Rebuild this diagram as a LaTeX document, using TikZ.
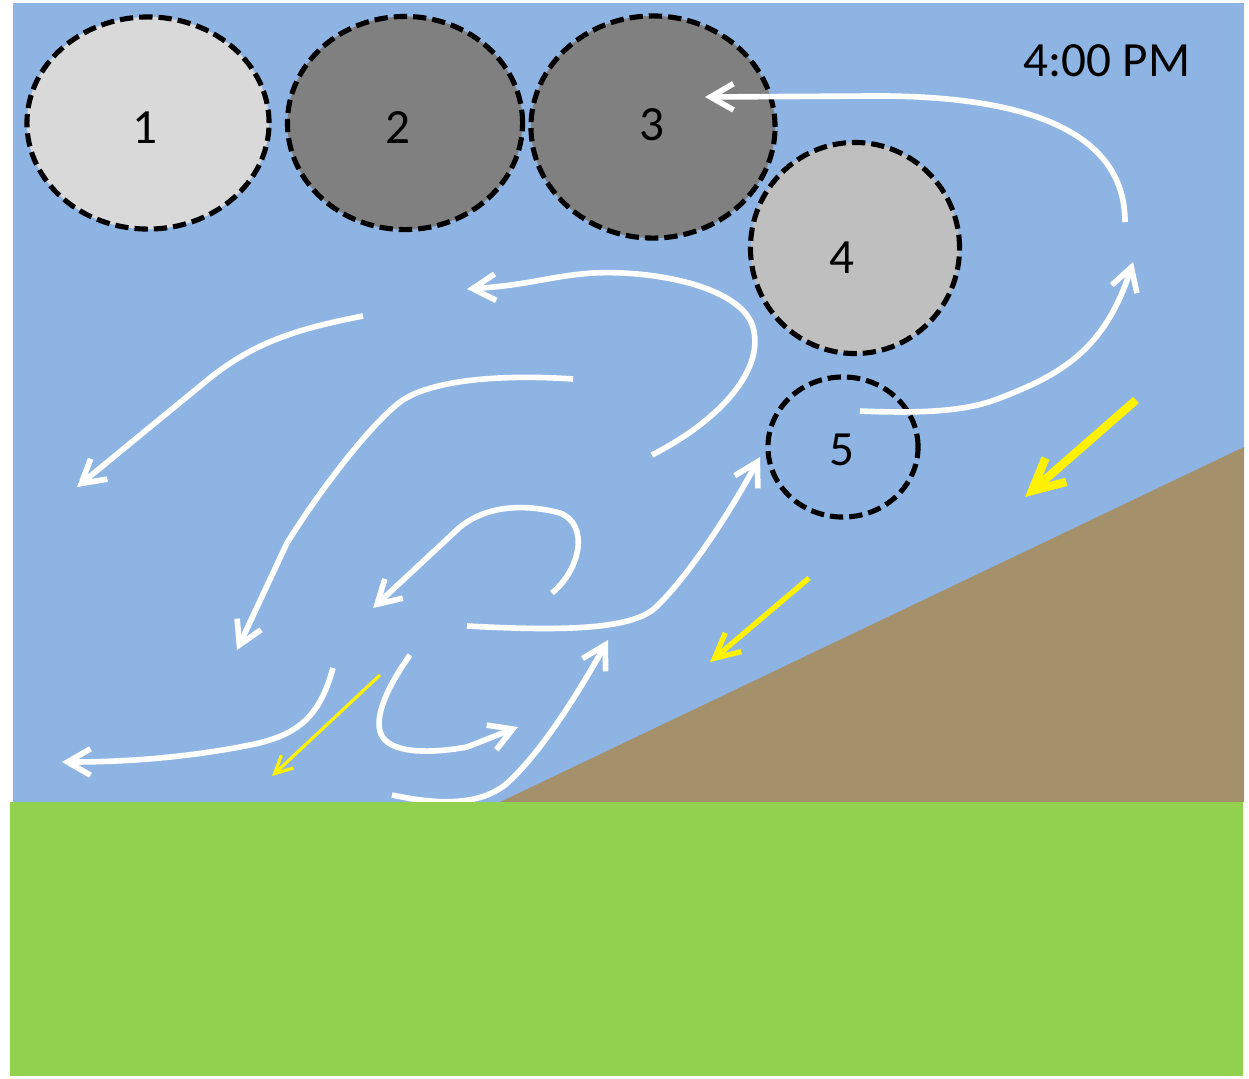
\documentclass[tikz,border=0pt]{standalone}
\usepackage{fontspec}
\setmainfont{Carlito}
\usetikzlibrary{arrows.meta, shapes.geometric}

\definecolor{sky}{RGB}{142,180,227}
\definecolor{grass}{RGB}{146,208,80}
\definecolor{hill}{RGB}{164,144,107}
\definecolor{pale}{RGB}{217,217,217}
\definecolor{dark}{RGB}{128,128,128}
\definecolor{mid}{RGB}{191,191,191}

\begin{document}
\begin{tikzpicture}[x=0.01cm, y=-0.01cm,
    puff/.style={ellipse, draw=black, line width=1.45pt, dash pattern=on 3.8pt off 1.7pt, inner sep=0pt},
    num/.style={font=\fontsize{14}{16}\selectfont},
    wind/.style={draw=white, line width=1.6pt, -{Straight Barb[length=6.5pt,width=7.5pt]}},
    breeze/.style={draw=yellow, -{Straight Barb[length=#1,width=#1]}},
    breeze/.default=7pt]

    \useasboundingbox (0,0) rectangle (1249,1078);

    % sky and the slope
    \fill[sky] (13,3) rectangle (1244,802);
    \fill[hill] (500,802) -- (1244,447) -- (1244,802) -- cycle;

    % clouds
    \node[puff, fill=pale, minimum width=2.42cm, minimum height=2.12cm] (c1) at (148,123) {};
    \node[puff, fill=dark, minimum width=2.35cm, minimum height=2.13cm] (c2) at (405,123) {};
    \node[puff, fill=dark, minimum width=2.44cm, minimum height=2.22cm] (c3) at (653,127) {};
    \node[puff, fill=mid, minimum width=2.09cm, minimum height=2.11cm] (c4) at (855,248) {};
    \node[puff, minimum width=1.50cm, minimum height=1.40cm] (c5) at (843,447) {};

    \node[num] (n1) at (145,128) {1};
    \node[num] (n2) at (398,128) {2};
    \node[num] (n3) at (652,125) {3};
    \node[num] (n4) at (842,258) {4};
    \node[num] (n5) at (842,450) {5};

    \node[num] (time) at (1107,61) {4:00 PM};

    % white gusts
    \draw[wind] (1125,222) .. controls (1125,120) and (1000,95) .. (870,96) -- (705,97);
    \draw[wind] (860,411) .. controls (930,414) and (970,410) .. (1000,398) .. controls (1060,375) and (1105,350) .. (1133,262);
    \draw[wind] (652,455) .. controls (720,420) and (765,370) .. (753,327) .. controls (740,285) and (650,270) .. (593,273) .. controls (550,276) and (530,285) .. (467,289);
    \draw[wind] (363,316) .. controls (290,330) and (250,345) .. (205,382) -- (77,487);
    \draw[wind] (573,379) .. controls (500,374) and (430,380) .. (400,402) .. controls (370,425) and (320,490) .. (287,543) -- (237,650);
    \draw[wind] (552,593) .. controls (580,570) and (590,525) .. (560,513) .. controls (530,505) and (490,503) .. (460,527) -- (373,608);
    \draw[wind] (467,626) .. controls (560,631) and (630,630) .. (655,608) .. controls (680,585) and (720,530) .. (760,457);
    \draw[wind] (392,795) .. controls (430,803) and (475,808) .. (505,785) .. controls (540,755) and (580,690) .. (608,640);
    \draw[wind] (410,655) .. controls (385,690) and (370,725) .. (385,740) .. controls (400,755) and (440,752) .. (467,747) -- (518,727);
    \draw[wind] (333,668) .. controls (320,715) and (300,735) .. (250,745) .. controls (200,755) and (140,762) .. (62,762);

    % yellow downslope arrows
    \draw[breeze=9pt, line width=2.4pt] (1136,400) -- (1025,497);
    \draw[breeze, line width=1.5pt] (809,578) -- (710,662);
    \draw[breeze=5pt, line width=0.9pt] (380,675) -- (272,776);

    % ground
    \fill[grass] (10,802) rectangle (1243,1076);

\end{tikzpicture}
\end{document}
